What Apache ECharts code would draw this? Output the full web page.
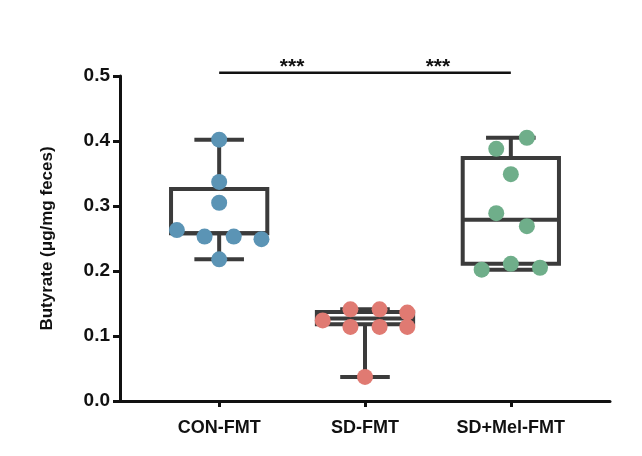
<!DOCTYPE html><html><head><meta charset="utf-8">
<script src="https://cdn.jsdelivr.net/npm/echarts@6/dist/echarts.min.js"></script>
<style>html,body{margin:0;background:#fff}#c{width:642px;height:456px}</style></head><body><div id="c"></div>
<script>
const categories=['CON-FMT','SD-FMT','SD+Mel-FMT'];
const conVals=[0.402,0.337,0.305,0.263,0.253,0.253,0.249,0.218];
const conJit=[0,0,0,-0.29,-0.1,0.1,0.29,0];
const sdVals=[0.141,0.141,0.136,0.124,0.114,0.114,0.114,0.037];
const sdJit=[-0.1,0.1,0.29,-0.29,-0.1,0.1,0.29,0];
const melVals=[0.405,0.388,0.349,0.289,0.269,0.211,0.205,0.202];
const melJit=[0.11,-0.1,0,-0.1,0.11,0,0.2,-0.2];
// [min, q1, median, q3, max]
const boxStats=[[0.218,0.258,0.258,0.326,0.402],[0.037,0.118,0.127,0.137,0.141],[0.202,0.211,0.279,0.374,0.405]];
const sigPairs=[[1,2,'***'],[2,3,'***']];
const sigLevel=0.505;
const colors=['#5b94b5','#e07a72','#6fae8a'];
const groups=[[conVals,conJit],[sdVals,sdJit],[melVals,melJit]];
const dark='#3b3b3b';
const chart=echarts.init(document.getElementById('c'));
const boxSeries={type:'custom',clip:false,z:2,data:boxStats.map((s,i)=>[i+1].concat(s)),
 renderItem:(p,api)=>{const x=api.value(0);const c=(v,dx)=>api.coord([x+(dx||0),v]);
  const bw=0.33,cw=0.17;const st={stroke:dark,lineWidth:4,fill:null};
  const mn=api.value(1),q1=api.value(2),md=api.value(3),q3=api.value(4),mx=api.value(5);
  const a=c(q3,-bw),b=c(q1,bw);
  const ln=(p1,p2)=>({type:'line',shape:{x1:p1[0],y1:p1[1],x2:p2[0],y2:p2[1]},style:st});
  return {type:'group',children:[
   {type:'rect',shape:{x:a[0],y:a[1],width:b[0]-a[0],height:b[1]-a[1]},style:st},
   ln(c(md,-bw),c(md,bw)),ln(c(q3),c(mx)),ln(c(q1),c(mn)),
   ln(c(mx,-cw),c(mx,cw)),ln(c(mn,-cw),c(mn,cw))]};}};
const sigSeries={type:'custom',clip:false,z:2,data:sigPairs.map(s=>[s[0],s[1],sigLevel,s[2]]),
 renderItem:(p,api)=>{const p1=api.coord([api.value(0),api.value(2)]),p2=api.coord([api.value(1),api.value(2)]);
  return {type:'group',children:[
   {type:'line',shape:{x1:p1[0],y1:p1[1],x2:p2[0],y2:p2[1]},style:{stroke:'#111',lineWidth:2.5}},
   {type:'text',style:{text:sigPairs[p.dataIndex][2],x:(p1[0]+p2[0])/2,y:p1[1]+5,align:'center',verticalAlign:'bottom',font:'bold 21px Arial',fill:'#111'}}]};}};
const pts=groups.map((g,i)=>({type:'scatter',z:3,symbolSize:16,itemStyle:{color:colors[i],opacity:1},
 data:g[0].map((v,j)=>[i+1+g[1][j],v])}));
chart.setOption({animation:false,
 grid:{left:120,right:32,top:76,bottom:55},
 xAxis:{type:'value',min:0.32,max:3.68,splitLine:{show:false},
  axisLine:{lineStyle:{color:'#111',width:3}},
  axisTick:{customValues:[1,2,3],length:6,lineStyle:{color:'#111',width:3}},
  axisLabel:{customValues:[1,2,3],formatter:v=>categories[Math.round(v)-1],color:'#111',fontWeight:'bold',fontSize:18,fontFamily:'Arial',margin:18}},
 yAxis:{type:'value',min:0,max:0.5,interval:0.1,splitLine:{show:false},
  name:'Butyrate (μg/mg feces)',nameLocation:'middle',nameGap:64,nameTextStyle:{color:'#111',fontWeight:'bold',fontSize:17,fontFamily:'Arial'},
  axisLine:{show:true,lineStyle:{color:'#111',width:3}},
  axisTick:{show:true,length:7,lineStyle:{color:'#111',width:3}},
  axisLabel:{formatter:v=>v.toFixed(1),color:'#111',fontWeight:'bold',fontSize:19,fontFamily:'Arial',margin:10}},
 series:[boxSeries,sigSeries].concat(pts)});
</script></body></html>
